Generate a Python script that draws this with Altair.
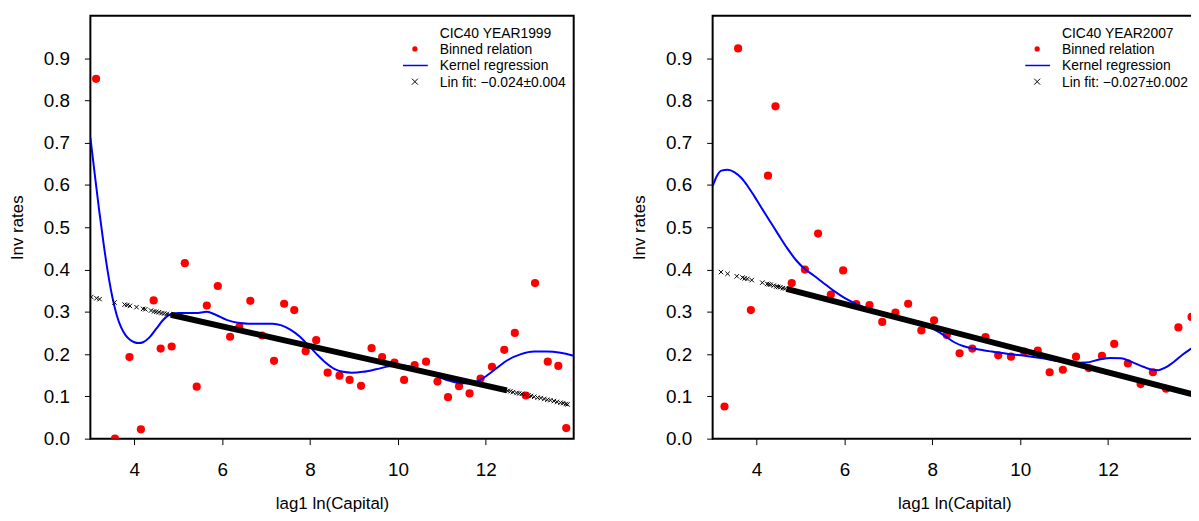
import altair as alt
import pandas as pd

# ---------------- panel 1: CIC40 YEAR1999 ----------------
bin_x_99 = [3.13, 3.56, 3.89, 4.15, 4.44, 4.60, 4.85, 5.15, 5.42, 5.65, 5.90, 6.18, 6.39, 6.64,
            6.91, 7.18, 7.41, 7.64, 7.90, 8.14, 8.40, 8.67, 8.90, 9.16, 9.40, 9.64, 9.92, 10.14,
            10.38, 10.64, 10.90, 11.14, 11.39, 11.63, 11.88, 12.14, 12.42, 12.66, 12.91, 13.12,
            13.41, 13.65, 13.83]
bin_y_99 = [0.851, 0.000, 0.193, 0.022, 0.327, 0.213, 0.218, 0.415, 0.123, 0.315, 0.361, 0.241,
            0.264, 0.326, 0.244, 0.184, 0.319, 0.304, 0.207, 0.233, 0.156, 0.149, 0.139, 0.125,
            0.214, 0.193, 0.180, 0.139, 0.174, 0.182, 0.135, 0.098, 0.124, 0.107, 0.142, 0.170,
            0.210, 0.250, 0.102, 0.368, 0.182, 0.172, 0.025]

kern_x_99 = [3.00, 3.10, 3.20, 3.30, 3.40, 3.50, 3.60, 3.70, 3.80, 3.90, 4.00, 4.10, 4.20, 4.35,
             4.50, 4.65, 4.80, 5.00, 5.20, 5.40, 5.65, 5.85, 6.10, 6.35, 6.60, 6.90, 7.15, 7.35,
             7.55, 7.75, 7.95, 8.15, 8.35, 8.55, 8.75, 8.95, 9.20, 9.50, 9.80, 10.05, 10.30,
             10.60, 10.90, 11.20, 11.45, 11.65, 11.90, 12.20, 12.50, 12.80, 13.10, 13.40, 13.70,
             14.00]
kern_y_99 = [0.712, 0.625, 0.540, 0.462, 0.392, 0.335, 0.292, 0.263, 0.245, 0.234, 0.228, 0.226,
             0.228, 0.240, 0.260, 0.280, 0.293, 0.297, 0.297, 0.297, 0.300, 0.293, 0.281, 0.274,
             0.272, 0.272, 0.272, 0.268, 0.258, 0.243, 0.222, 0.200, 0.180, 0.165, 0.158, 0.156,
             0.158, 0.164, 0.171, 0.173, 0.170, 0.160, 0.147, 0.136, 0.131, 0.131, 0.141, 0.163,
             0.186, 0.200, 0.206, 0.206, 0.203, 0.196]

lin_x_99 = [3.02, 3.14, 3.21, 3.55, 3.78, 3.84, 3.90, 4.05, 4.20, 4.25, 4.38, 4.45, 4.50, 4.56,
            4.62, 4.68, 4.74, 4.80, 12.50, 12.56, 12.62, 12.70, 12.76, 12.82, 12.90, 12.97,
            13.03, 13.10, 13.18, 13.25, 13.33, 13.40, 13.47, 13.55, 13.62, 13.70, 13.76, 13.82,
            13.86]
lin_y_99 = [0.335, 0.332, 0.330, 0.322, 0.317, 0.316, 0.314, 0.311, 0.307, 0.306, 0.303, 0.301,
            0.300, 0.299, 0.297, 0.296, 0.295, 0.293, 0.113, 0.112, 0.110, 0.108, 0.107, 0.106,
            0.104, 0.102, 0.101, 0.099, 0.097, 0.096, 0.094, 0.092, 0.091, 0.089, 0.087, 0.085,
            0.084, 0.082, 0.081]
band_x_99 = [4.83, 12.48]
band_y_99 = [0.293, 0.114]

# ---------------- panel 2: CIC40 YEAR2007 ----------------
bin_x_07 = [3.27, 3.58, 3.87, 4.26, 4.43, 4.80, 5.10, 5.40, 5.69, 5.97, 6.27, 6.57, 6.86, 7.16,
            7.45, 7.75, 8.04, 8.33, 8.62, 8.91, 9.21, 9.50, 9.79, 10.09, 10.40, 10.67, 10.97,
            11.27, 11.56, 11.86, 12.14, 12.45, 12.74, 13.02, 13.32, 13.60, 13.90]
bin_y_07 = [0.076, 0.923, 0.304, 0.622, 0.786, 0.368, 0.400, 0.485, 0.341, 0.398, 0.318, 0.316,
            0.276, 0.298, 0.319, 0.256, 0.280, 0.245, 0.202, 0.213, 0.240, 0.197, 0.194, 0.206,
            0.208, 0.157, 0.163, 0.194, 0.167, 0.196, 0.224, 0.178, 0.129, 0.157, 0.118, 0.263,
            0.288]

kern_x_07 = [3.00, 3.10, 3.20, 3.34, 3.50, 3.65, 3.80, 3.95, 4.10, 4.30, 4.50, 4.70, 4.90, 5.10,
             5.30, 5.50, 5.75, 6.00, 6.30, 6.60, 6.90, 7.25, 7.60, 7.90, 8.10, 8.30, 8.50, 8.70,
             9.00, 9.35, 9.70, 10.10, 10.50, 10.90, 11.20, 11.50, 11.80, 12.05, 12.30, 12.55,
             12.80, 13.00, 13.15, 13.30, 13.50, 13.70, 13.85, 14.00]
kern_y_07 = [0.597, 0.622, 0.634, 0.636, 0.630, 0.617, 0.597, 0.573, 0.548, 0.515, 0.482, 0.450,
             0.422, 0.401, 0.386, 0.370, 0.350, 0.333, 0.317, 0.305, 0.297, 0.287, 0.276, 0.265,
             0.255, 0.242, 0.228, 0.219, 0.212, 0.206, 0.201, 0.196, 0.190, 0.183, 0.179, 0.180,
             0.187, 0.191, 0.190, 0.181, 0.170, 0.163, 0.162, 0.168, 0.182, 0.199, 0.210, 0.220]

lin_x_07 = [3.19, 3.34, 3.55, 3.68, 3.73, 3.79, 3.89, 4.13, 4.24, 4.28, 4.32, 4.39, 4.45, 4.49,
            4.54, 4.60, 4.65]
lin_y_07 = [0.394, 0.390, 0.384, 0.381, 0.379, 0.378, 0.375, 0.369, 0.366, 0.365, 0.364, 0.362,
            0.360, 0.359, 0.358, 0.356, 0.355]
band_x_07 = [4.68, 14.00]
band_y_07 = [0.354, 0.103]

# ---------------- text ----------------
header_99 = "CIC40 YEAR1999"
header_07 = "CIC40 YEAR2007"
linlabel_99 = "Lin fit: \u22120.024\u00b10.004"
linlabel_07 = "Lin fit: \u22120.027\u00b10.002"
legend_items = ["Binned relation", "Kernel regression"]
x_title = "lag1 ln(Capital)"
y_title = "Inv rates"
x_ticks = [4, 6, 8, 10, 12]
y_ticks = [0.0, 0.1, 0.2, 0.3, 0.4, 0.5, 0.6, 0.7, 0.8, 0.9]

FONT = "Liberation Sans"
CROSS = "M-1,-1L1,1M-1,1L1,-1"
RED = "#ff0000"
BLUE = "#0000ff"


def make_panel(bx, by, kx, ky, lx, ly, bdx, bdy, header, linlabel):
    xs = alt.Scale(domain=[3, 14], nice=False, zero=False)
    ys = alt.Scale(domain=[0, 1], nice=False, zero=False)
    xax = alt.Axis(values=x_ticks, title=x_title, domain=False, grid=False, ticks=True,
                   tickSize=6, tickColor="black", tickWidth=1, labelFont=FONT,
                   labelFontSize=19, labelColor="black", labelPadding=16, labelFlush=False,
                   titleFont=FONT, titleFontSize=17, titleFontWeight="normal",
                   titleColor="black", titlePadding=16)
    yax = alt.Axis(values=y_ticks, format=".1f", title=y_title, domain=False, grid=False,
                   ticks=True, tickSize=6, tickColor="black", tickWidth=1, labelFont=FONT,
                   labelFontSize=19, labelColor="black", labelPadding=15, labelFlush=False,
                   titleFont=FONT, titleFontSize=17, titleFontWeight="normal",
                   titleColor="black", titlePadding=17)

    def enc(ch):
        return ch.encode(x=alt.X("x:Q", scale=xs, axis=xax), y=alt.Y("y:Q", scale=ys, axis=yax))

    pts = enc(alt.Chart(pd.DataFrame({"x": bx, "y": by})).mark_point(
        shape="circle", filled=True, size=68, color=RED, opacity=1, clip=True))
    kern = enc(alt.Chart(pd.DataFrame({"x": kx, "y": ky})).mark_line(
        color=BLUE, strokeWidth=2, clip=True, interpolate="monotone"))
    band = enc(alt.Chart(pd.DataFrame({"x": bdx, "y": bdy})).mark_line(
        color="black", strokeWidth=6, clip=True, strokeCap="butt"))
    crosses = enc(alt.Chart(pd.DataFrame({"x": lx, "y": ly})).mark_point(
        shape=CROSS, size=20, stroke="black", strokeWidth=1, filled=False, opacity=1, clip=True))

    dummy = pd.DataFrame({"d": [0]})
    texts = [header] + legend_items + [linlabel]
    text_y = [18, 34.3, 51, 67.3]
    legend_layers = []
    for t, yy in zip(texts, text_y):
        legend_layers.append(
            alt.Chart(dummy).mark_text(text=t, align="left", baseline="middle", font=FONT,
                                       fontSize=14, color="black")
            .encode(x=alt.value(352), y=alt.value(yy)))
    legend_layers.append(
        alt.Chart(dummy).mark_point(shape="circle", filled=True, size=28, color=RED, opacity=1)
        .encode(x=alt.value(327), y=alt.value(33.3)))
    legend_layers.append(
        alt.Chart(dummy).mark_rule(color=BLUE, strokeWidth=1.5)
        .encode(x=alt.value(315), x2=alt.value(340), y=alt.value(50)))
    legend_layers.append(
        alt.Chart(dummy).mark_point(shape=CROSS, size=36, stroke="black", strokeWidth=1,
                                    filled=False, opacity=1)
        .encode(x=alt.value(327), y=alt.value(66.3)))

    return alt.layer(pts, kern, band, crosses, *legend_layers).properties(width=487, height=426)


p1 = make_panel(bin_x_99, bin_y_99, kern_x_99, kern_y_99, lin_x_99, lin_y_99,
                band_x_99, band_y_99, header_99, linlabel_99)
p2 = make_panel(bin_x_07, bin_y_07, kern_x_07, kern_y_07, lin_x_07, lin_y_07,
                band_x_07, band_y_07, header_07, linlabel_07)

chart = (
    alt.hconcat(p1, p2, spacing=55)
    .properties(background="white", padding={"left": -1, "top": 5, "right": -6, "bottom": 0})
    .configure_view(stroke="black", strokeWidth=2)
)

chart.save("out.html", embed_options={"renderer": "svg", "actions": False})
